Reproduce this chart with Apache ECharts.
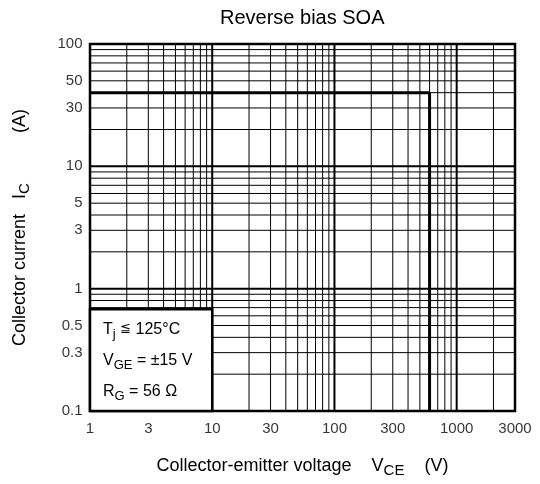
<!DOCTYPE html>
<html>
<head>
<meta charset="utf-8">
<script src="https://cdn.jsdelivr.net/npm/echarts@6.0.0/dist/echarts.min.js"></script>
<style>
html,body{margin:0;padding:0;background:#fff;}
#chart{width:540px;height:484px;}
</style>
</head>
<body>
<div id="chart"></div>
<script>
// ---- data ----
const xTickLabels = [1, 3, 10, 30, 100, 300, 1000, 3000];
const yTickLabels = [100, 50, 30, 10, 5, 3, 1, 0.5, 0.3, 0.1];
const xGridMinor = [2, 3, 4, 5, 6, 7, 8, 9, 20, 30, 40, 50, 60, 70, 80, 90, 200, 300, 400, 500, 600, 700, 800, 900, 2000];
const xGridMajor = [10, 100, 1000];
const yGridMinor = [0.2, 0.3, 0.4, 0.5, 0.6, 0.7, 0.8, 0.9, 2, 3, 4, 5, 6, 7, 8, 9, 20, 30, 40, 50, 60, 70, 80, 90];
const yGridMajor = [1, 10];
const soaVoltage = [1, 600, 600];
const soaCurrent = [40, 40, 0.1];
const noteBoxVoltage = [1, 10];
const noteBoxCurrent = [0.1, 0.68];
const noteLines = ['T{sub|j} {le|≦} 125°C', 'V{sub|GE} = ±15 V', 'R{sub|G} = 56 Ω'];
const titleText = 'Reverse bias SOA';

const X_MIN = 1, X_MAX = 3000, Y_MIN = 0.1, Y_MAX = 100;
const FONT = '"Liberation Sans", Arial, Helvetica, sans-serif';
const GRID = { left: 90, right: 25, top: 44, bottom: 73 };

function gridSeries(values, vertical, width) {
  return {
    type: 'custom', z: 1, silent: true,
    data: values.map(v => vertical ? [v, Y_MIN] : [X_MIN, v]),
    renderItem(params, api) {
      const v = api.value(vertical ? 0 : 1);
      const a = vertical ? api.coord([v, Y_MIN]) : api.coord([X_MIN, v]);
      const b = vertical ? api.coord([v, Y_MAX]) : api.coord([X_MAX, v]);
      return { type: 'line', shape: { x1: a[0], y1: a[1], x2: b[0], y2: b[1] },
               style: { stroke: '#000', lineWidth: width } };
    }
  };
}

// centre the title over the plot area
const TITLE_SIZE = 20;
const ctx = document.createElement('canvas').getContext('2d');
ctx.font = TITLE_SIZE + 'px ' + FONT;
const titleW = ctx.measureText(titleText).width;
const plotCenter = GRID.left + (540 - GRID.left - GRID.right) / 2;

const subRich = { fontSize: 15, fontFamily: FONT, color: '#000', padding: [8, 0, 0, 0] };

const chart = echarts.init(document.getElementById('chart'));
chart.setOption({
  animation: false,
  title: {
    text: titleText, left: Math.round(plotCenter - titleW / 2), top: 8, padding: 0,
    textStyle: { fontFamily: FONT, fontSize: TITLE_SIZE, fontWeight: 'normal', color: '#000' }
  },
  grid: Object.assign({ show: true, borderColor: '#000', borderWidth: 2.5, backgroundColor: 'transparent' }, GRID),
  xAxis: {
    type: 'log', logBase: 10, min: X_MIN, max: X_MAX,
    axisLine: { show: false }, axisTick: { show: false }, axisLabel: { show: false }, splitLine: { show: false },
    name: 'Collector-emitter voltage    V{sub|CE}    (V)', nameLocation: 'middle', nameGap: 44,
    nameTextStyle: { fontFamily: FONT, fontSize: 18, color: '#000', rich: { sub: subRich } }
  },
  yAxis: {
    type: 'log', logBase: 10, min: Y_MIN, max: Y_MAX,
    axisLine: { show: false }, axisTick: { show: false }, axisLabel: { show: false }, splitLine: { show: false },
    name: 'Collector current   I{sub|C}          (A)', nameLocation: 'middle', nameGap: 58,
    nameTextStyle: { fontFamily: FONT, fontSize: 18, color: '#000', rich: { sub: subRich } }
  },
  series: [
    gridSeries(xGridMinor, true, 1),
    gridSeries(xGridMajor, true, 2),
    gridSeries(yGridMinor, false, 1),
    gridSeries(yGridMajor, false, 2),
    {
      type: 'custom', z: 3, silent: true,
      data: [[noteBoxVoltage[0], noteBoxCurrent[0], noteBoxVoltage[1], noteBoxCurrent[1]]],
      encode: { x: [0, 2], y: [1, 3] },
      renderItem(params, api) {
        const p0 = api.coord([api.value(0), api.value(1)]);
        const p1 = api.coord([api.value(2), api.value(3)]);
        const x = p0[0], y = p1[1], w = p1[0] - p0[0], h = p0[1] - p1[1];
        return {
          type: 'group',
          children: [
            { type: 'rect', shape: { x: x, y: y, width: w, height: h },
              style: { fill: '#fff', stroke: '#000', lineWidth: 2.5 } },
            { type: 'text', x: x + 13, y: y + h / 2 + 1,
              style: {
                text: noteLines.join('\n'), align: 'left', verticalAlign: 'middle',
                fontFamily: FONT, fontSize: 16, fill: '#000', lineHeight: 31,
                rich: {
                  sub: { fontFamily: FONT, fontSize: 13, fill: '#000', padding: [8, 0, 0, 0], lineHeight: 31 },
                  le: { fontFamily: FONT, fontSize: 13, fill: '#000', padding: [0, 0, 4, 0], lineHeight: 31 }
                }
              } }
          ]
        };
      }
    },
    {
      type: 'line', z: 4, silent: true, symbol: 'none',
      data: soaVoltage.map((v, i) => [v, soaCurrent[i]]),
      lineStyle: { color: '#000', width: 3 }
    },
    {
      type: 'scatter', z: 5, silent: true, symbolSize: 1, clip: false,
      itemStyle: { color: 'transparent' },
      data: yTickLabels.map(v => [X_MIN, v]),
      label: { show: true, position: 'left', distance: 7, formatter: p => String(p.value[1]),
               fontFamily: FONT, fontSize: 15, color: '#000' }
    },
    {
      type: 'scatter', z: 5, silent: true, symbolSize: 1, clip: false,
      itemStyle: { color: 'transparent' },
      data: xTickLabels.map(v => [v, Y_MIN]),
      label: { show: true, position: 'bottom', distance: 10, formatter: p => String(p.value[0]),
               fontFamily: FONT, fontSize: 15, color: '#000' }
    }
  ]
});
</script>
</body>
</html>
